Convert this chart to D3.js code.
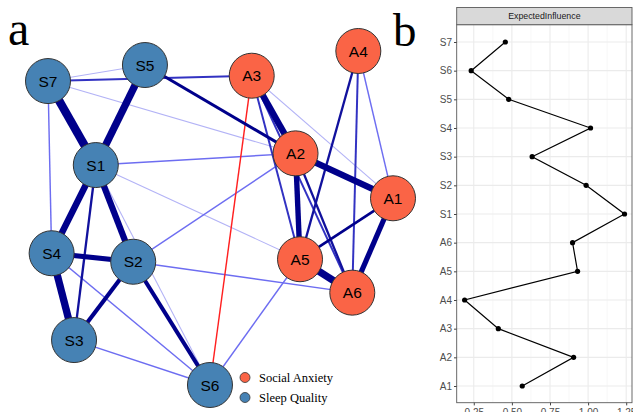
<!DOCTYPE html>
<html>
<head>
<meta charset="utf-8">
<script src="https://cdn.jsdelivr.net/npm/d3@7"></script>
<style>
  body { margin: 0; background: #fff; }
</style>
</head>
<body>
<svg id="chart" width="633" height="412"></svg>
<script>
// ---- network data (panel a) ----
const nodeIds    = ["S1", "S2", "S3", "S4", "S5", "S6", "S7", "A1", "A2", "A3", "A4", "A5", "A6"];
const nodeGroups = ["Sleep Quality", "Sleep Quality", "Sleep Quality", "Sleep Quality", "Sleep Quality", "Sleep Quality", "Sleep Quality",
                    "Social Anxiety", "Social Anxiety", "Social Anxiety", "Social Anxiety", "Social Anxiety", "Social Anxiety"];
// layout in unit coordinates (-1..1), as a spring layout would give
const layoutX = [-0.723, -0.506, -0.849, -0.979, -0.438, -0.061, -1.0, 1.0, 0.435, 0.181, 0.799, 0.461, 0.764];
const layoutY = [0.317, -0.262, -0.731, -0.211, 0.916, -1.0, 0.820, 0.118, 0.387, 0.852, 1.0, -0.247, -0.447];

const edgeFrom   = ["S7", "S5", "S1", "S1", "S4", "S4", "S2", "S2", "S1", "S5", "A3", "A2", "A2", "A5", "A1", "A1",
                    "A3", "A3", "A2", "A4", "A4", "A4", "S7", "S1", "S7", "S2", "S2", "S4", "S3", "S6", "S6",
                    "S7", "S7", "S1", "S1", "A3"];
const edgeTo     = ["S1", "S1", "S4", "S2", "S3", "S2", "S3", "S6", "S3", "A2", "A2", "A1", "A5", "A6", "A6", "A5",
                    "A5", "A6", "A6", "A5", "A6", "A1", "A3", "A2", "S4", "A2", "A6", "S6", "S6", "A5", "A3",
                    "S5", "A2", "A5", "S6", "A1"];
const edgeWeight = [0.44, 0.38, 0.33, 0.32, 0.38, 0.26, 0.20, 0.20, 0.10, 0.14, 0.33, 0.32, 0.27, 0.38, 0.26, 0.12,
                    0.08, 0.08, 0.10, 0.10, 0.08, 0.05, 0.08, 0.05, 0.05, 0.05, 0.05, 0.05, 0.05, 0.05, -0.05,
                    0.03, 0.03, 0.03, 0.03, 0.03];

const groupNames  = ["Social Anxiety", "Sleep Quality"];

// ---- expected influence (panel b) ----
const eiLabels = ["S7", "S6", "S5", "S4", "S3", "S2", "S1", "A6", "A5", "A4", "A3", "A2", "A1"];
const eiValues = [0.457, 0.233, 0.479, 1.016, 0.633, 0.987, 1.239, 0.898, 0.931, 0.190, 0.411, 0.905, 0.568];
const xTicks   = [0.25, 0.50, 0.75, 1.00, 1.25];

const svg = d3.select("#chart");

// ================= panel a =================
const nx = d3.scaleLinear().domain([-1, 1]).range([48, 393]);
const ny = d3.scaleLinear().domain([-1, 1]).range([385, 51]);
const groupColor = d3.scaleOrdinal().domain(groupNames).range(["#fa6446", "#4682b4"]);
const edgeWidth = d3.scaleLinear().domain([0.02, 0.45]).range([0.9, 8.6]);
const edgeColor = d3.scaleLinear().domain([0.02, 0.055, 0.11]).range(["#d6d6f8", "#5c5cf0", "#00008b"]).clamp(true);
const nodeR = 22.5;

const nodes = nodeIds.map(function (id, i) {
    return { id: id, group: nodeGroups[i], x: nx(layoutX[i]), y: ny(layoutY[i]) };
});
const byId = new Map(nodes.map(function (d) { return [d.id, d]; }));

const edges = edgeFrom.map(function (f, i) {
    return { source: byId.get(f), target: byId.get(edgeTo[i]), w: edgeWeight[i] };
}).sort(function (a, b) { return d3.ascending(Math.abs(a.w), Math.abs(b.w)); });

const net = svg.append("g");

net.selectAll("line.edge")
    .data(edges)
    .enter()
    .append("line")
    .attr("class", "edge")
    .attr("x1", function (d) { return d.source.x; })
    .attr("y1", function (d) { return d.source.y; })
    .attr("x2", function (d) { return d.target.x; })
    .attr("y2", function (d) { return d.target.y; })
    .attr("stroke", function (d) { return d.w < 0 ? "#ff2020" : edgeColor(d.w); })
    .attr("stroke-width", function (d) { return edgeWidth(Math.abs(d.w)); });

const nodeG = net.selectAll("g.node")
    .data(nodes)
    .enter()
    .append("g")
    .attr("class", "node")
    .attr("transform", function (d) { return "translate(" + d.x + "," + d.y + ")"; });

nodeG.append("circle")
    .attr("r", nodeR)
    .attr("fill", function (d) { return groupColor(d.group); })
    .attr("stroke", "#333")
    .attr("stroke-width", 1);

nodeG.append("text")
    .text(function (d) { return d.id; })
    .attr("text-anchor", "middle")
    .attr("dy", "0.36em")
    .attr("font-family", "Liberation Sans, Arial, sans-serif")
    .attr("font-size", "15.5px")
    .attr("fill", "#000");

// legend
const legend = svg.append("g");
const legendY = d3.scalePoint().domain(groupNames).range([377.5, 397.5]);
legend.selectAll("circle")
    .data(groupNames)
    .enter()
    .append("circle")
    .attr("cx", 245)
    .attr("cy", function (d) { return legendY(d); })
    .attr("r", 5)
    .attr("fill", function (d) { return groupColor(d); })
    .attr("stroke", "#333")
    .attr("stroke-width", 0.8);
legend.selectAll("text")
    .data(groupNames)
    .enter()
    .append("text")
    .text(function (d) { return d; })
    .attr("x", 259)
    .attr("y", function (d) { return legendY(d) + 4.3; })
    .attr("font-family", "Liberation Serif, Times New Roman, serif")
    .attr("font-size", "12.5px")
    .attr("fill", "#000");

svg.append("text").text("a")
    .attr("x", 8).attr("y", 45)
    .attr("font-family", "Liberation Serif, Times New Roman, serif")
    .attr("font-size", "48px").attr("fill", "#000");
svg.append("text").text("b")
    .attr("x", 393).attr("y", 46)
    .attr("font-family", "Liberation Serif, Times New Roman, serif")
    .attr("font-size", "47px").attr("fill", "#000");

// ================= panel b =================
const pLeft = 456.7, pRight = 632, pTop = 24.7, pBottom = 402.7, stripTop = 7.5;

const xScale = d3.scaleLinear().domain([0.138, 1.288]).range([pLeft, pRight]);
const yScale = d3.scalePoint().domain(eiLabels).range([42, 386]);

const pb = svg.append("g");

pb.append("rect")
    .attr("x", pLeft).attr("y", pTop)
    .attr("width", pRight - pLeft).attr("height", pBottom - pTop)
    .attr("fill", "#fff");

// minor grid
const minor = d3.range(xTicks.length + 1).map(function (i) { return 0.125 + i * 0.25; })
    .filter(function (v) { return v > xScale.domain()[0] && v < xScale.domain()[1]; });
pb.selectAll("line.minor")
    .data(minor)
    .enter()
    .append("line")
    .attr("class", "minor")
    .attr("x1", function (d) { return xScale(d); })
    .attr("x2", function (d) { return xScale(d); })
    .attr("y1", pTop).attr("y2", pBottom)
    .attr("stroke", "#f2f2f2").attr("stroke-width", 0.6);

pb.selectAll("line.vgrid")
    .data(xTicks)
    .enter()
    .append("line")
    .attr("class", "vgrid")
    .attr("x1", function (d) { return xScale(d); })
    .attr("x2", function (d) { return xScale(d); })
    .attr("y1", pTop).attr("y2", pBottom)
    .attr("stroke", "#ebebeb").attr("stroke-width", 1.1);

pb.selectAll("line.hgrid")
    .data(eiLabels)
    .enter()
    .append("line")
    .attr("class", "hgrid")
    .attr("x1", pLeft).attr("x2", pRight)
    .attr("y1", function (d) { return yScale(d); })
    .attr("y2", function (d) { return yScale(d); })
    .attr("stroke", "#ebebeb").attr("stroke-width", 1.1);

pb.append("rect")
    .attr("x", pLeft).attr("y", pTop)
    .attr("width", pRight - pLeft).attr("height", pBottom - pTop)
    .attr("fill", "none").attr("stroke", "#5a5a5a").attr("stroke-width", 0.9);

// strip
pb.append("rect")
    .attr("x", pLeft).attr("y", stripTop)
    .attr("width", pRight - pLeft).attr("height", pTop - stripTop)
    .attr("fill", "#d9d9d9").attr("stroke", "#5a5a5a").attr("stroke-width", 0.9);
pb.append("text")
    .text("ExpectedInfluence")
    .attr("x", (pLeft + pRight) / 2).attr("y", (stripTop + pTop) / 2)
    .attr("dy", "0.35em")
    .attr("text-anchor", "middle")
    .attr("font-family", "Liberation Sans, Arial, sans-serif")
    .attr("font-size", "8.8px")
    .attr("fill", "#1a1a1a");

// axes
const yAxis = pb.append("g")
    .attr("transform", "translate(" + pLeft + ",0)")
    .call(d3.axisLeft(yScale).tickSize(2.7).tickPadding(2));
const xAxis = pb.append("g")
    .attr("transform", "translate(0," + pBottom + ")")
    .call(d3.axisBottom(xScale).tickValues(xTicks).tickFormat(d3.format(".2f")).tickSize(2.7).tickPadding(3.5));
[yAxis, xAxis].forEach(function (ax) {
    ax.select(".domain").remove();
    ax.selectAll(".tick line").attr("stroke", "#444");
    ax.selectAll(".tick text")
        .attr("font-family", "Liberation Sans, Arial, sans-serif")
        .attr("font-size", "10px")
        .attr("fill", "#4d4d4d");
});

// line + points
const ei = eiLabels.map(function (l, i) { return { label: l, value: eiValues[i] }; });
pb.append("path")
    .datum(ei)
    .attr("fill", "none")
    .attr("stroke", "#000")
    .attr("stroke-width", 1.2)
    .attr("d", d3.line()
        .x(function (d) { return xScale(d.value); })
        .y(function (d) { return yScale(d.label); }));
pb.selectAll("circle.pt")
    .data(ei)
    .enter()
    .append("circle")
    .attr("class", "pt")
    .attr("cx", function (d) { return xScale(d.value); })
    .attr("cy", function (d) { return yScale(d.label); })
    .attr("r", 2.6)
    .attr("fill", "#000");
</script>
</body>
</html>
